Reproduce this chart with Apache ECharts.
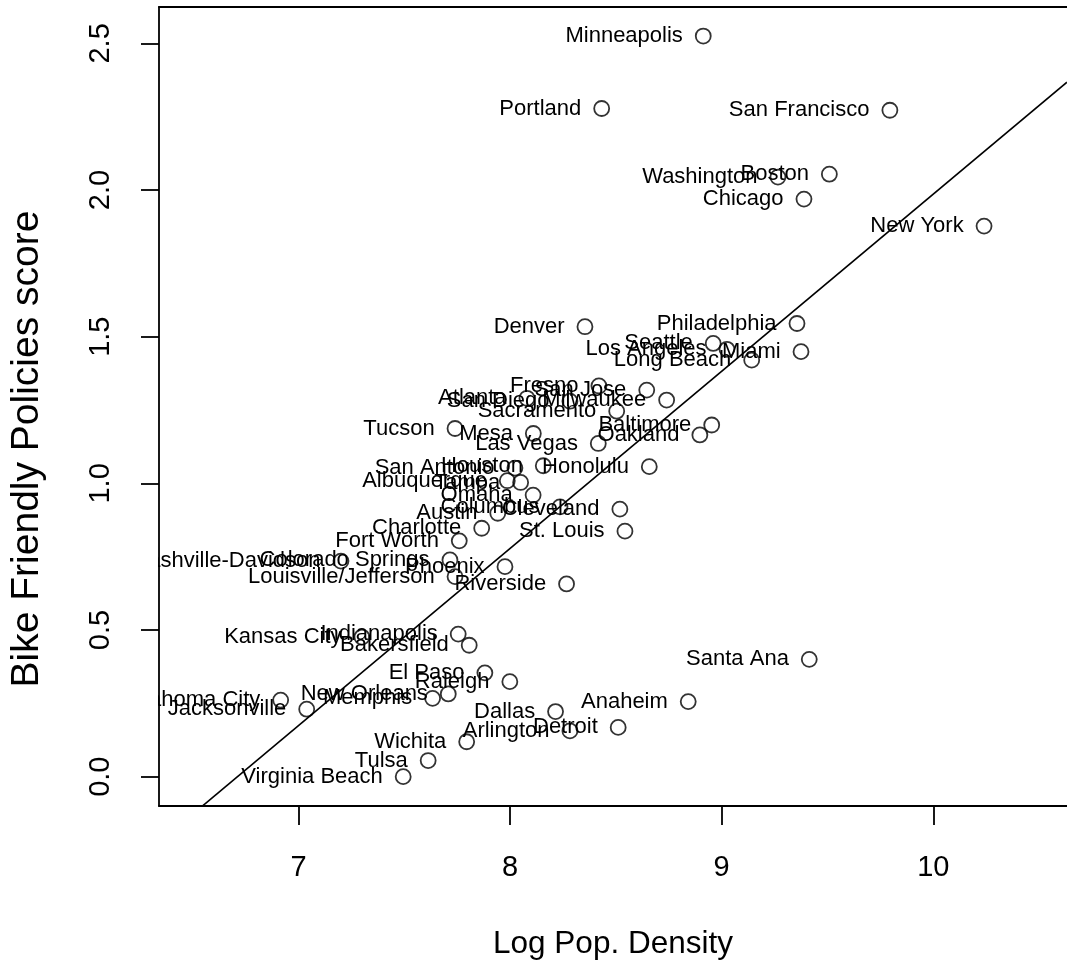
<!DOCTYPE html>
<html>
<head>
<meta charset="utf-8">
<title>Bike Friendly Policies vs Log Population Density</title>
<script src="https://cdn.jsdelivr.net/npm/echarts@6/dist/echarts.min.js"></script>
<style>
  html, body { margin: 0; padding: 0; background: #fff; }
  #chart { width: 1067px; height: 962px; }
</style>
</head>
<body>
<div id="chart"></div>
<script>
// City names, log population density and bike-friendly policy score
const cities = [
  'Minneapolis', 'Portland', 'San Francisco', 'Washington', 'Boston', 'Chicago',
  'New York', 'Denver', 'Philadelphia', 'Seattle', 'Los Angeles', 'Miami',
  'Long Beach', 'Fresno', 'San Jose', 'Atlanta', 'San Diego', 'Milwaukee',
  'Sacramento', 'Tucson', 'Mesa', 'Baltimore', 'Oakland', 'Las Vegas',
  'Houston', 'San Antonio', 'Honolulu', 'Albuquerque', 'Tampa', 'Omaha',
  'Columbus', 'Cleveland', 'Austin', 'Charlotte', 'St. Louis', 'Fort Worth',
  'Nashville-Davidson', 'Colorado Springs', 'Phoenix', 'Louisville/Jefferson',
  'Riverside', 'Kansas City', 'Indianapolis', 'Bakersfield', 'Santa Ana',
  'El Paso', 'Raleigh', 'Oklahoma City', 'New Orleans', 'Memphis',
  'Jacksonville', 'Anaheim', 'Dallas', 'Arlington', 'Detroit', 'Wichita',
  'Tulsa', 'Virginia Beach'
];
const logDensity = [
  8.913, 8.433, 9.795, 9.266, 9.509, 9.389,
  10.240, 8.354, 9.356, 8.960, 9.025, 9.375,
  9.142, 8.420, 8.646, 8.080, 8.283, 8.740,
  8.504, 7.740, 8.110, 8.953, 8.897, 8.417,
  8.157, 8.023, 8.658, 7.987, 8.050, 8.109,
  8.236, 8.519, 7.942, 7.866, 8.543, 7.760,
  7.201, 7.716, 7.976, 7.740,
  8.267, 7.300, 7.755, 7.807, 9.414,
  7.881, 7.999, 6.916, 7.708, 7.634,
  7.039, 8.842, 8.215, 8.283, 8.511, 7.795,
  7.613, 7.495
];
const bikeScore = [
  2.525, 2.278, 2.272, 2.044, 2.054, 1.969,
  1.877, 1.534, 1.545, 1.477, 1.457, 1.449,
  1.420, 1.332, 1.318, 1.290, 1.280, 1.284,
  1.246, 1.187, 1.170, 1.199, 1.165, 1.136,
  1.060, 1.052, 1.057, 1.009, 1.003, 0.960,
  0.920, 0.912, 0.898, 0.847, 0.837, 0.804,
  0.735, 0.739, 0.716, 0.682,
  0.657, 0.476, 0.486, 0.448, 0.400,
  0.354, 0.324, 0.261, 0.282, 0.267,
  0.230, 0.256, 0.222, 0.156, 0.168, 0.119,
  0.055, 0.000
];

// Least-squares fit line: score = intercept + slope * logDensity
const fitIntercept = -4.054;
const fitSlope = 0.604;

// Axis ranges and tick marks
const xRange = [6.341, 10.632];
const yRange = [-0.1, 2.624];
const xTicks = [7, 8, 9, 10];
const yTicks = [0, 0.5, 1, 1.5, 2, 2.5];

const FONT = "'Liberation Sans', Arial, Helvetica, sans-serif";
const INK = '#000';

const points = cities.map((c, i) => ({ name: c, value: [logDensity[i], bikeScore[i]] }));
const fitLine = xRange.map(x => [x, fitIntercept + fitSlope * x]);

const chart = echarts.init(document.getElementById('chart'), null, { renderer: 'canvas' });

const frameLine = { show: true, onZero: false, lineStyle: { color: INK, width: 1.8 } };

chart.setOption({
  backgroundColor: '#ffffff',
  animation: false,
  grid: { left: 159, top: 7, right: 0, bottom: 156, show: false, outerBoundsMode: 'none', containLabel: false },
  xAxis: [
    {
      type: 'value', min: xRange[0], max: xRange[1], z: 100, position: 'bottom',
      splitLine: { show: false },
      axisLine: frameLine,
      axisTick: { show: true, length: 19, customValues: xTicks, lineStyle: { color: INK, width: 1.8 } },
      axisLabel: {
        customValues: xTicks, margin: 47, color: INK, fontSize: 29, fontFamily: FONT,
        formatter: v => String(v)
      },
      name: 'Log Pop. Density', nameLocation: 'middle', nameGap: 122,
      nameTextStyle: { color: INK, fontSize: 31.5, fontFamily: FONT }
    },
    {
      // top edge of the plot frame
      type: 'value', min: xRange[0], max: xRange[1], z: 100, position: 'top',
      splitLine: { show: false }, axisLine: frameLine,
      axisTick: { show: false }, axisLabel: { show: false }
    }
  ],
  yAxis: {
    type: 'value', min: yRange[0], max: yRange[1], z: 100,
    splitLine: { show: false },
    axisLine: frameLine,
    axisTick: { show: true, length: 18, customValues: yTicks, lineStyle: { color: INK, width: 1.8 } },
    axisLabel: {
      customValues: yTicks, rotate: 90, margin: 44, color: INK, fontSize: 29, fontFamily: FONT,
      formatter: v => v.toFixed(1)
    }
  },
  graphic: {
    elements: [
      // Text outside the plotting region is clipped at the left frame
      { type: 'rect', z: 50, shape: { x: 0, y: 0, width: 158, height: 962 }, style: { fill: '#fff' } },
      {
        type: 'text', z: 100, x: 27, y: 449, rotation: Math.PI / 2,
        style: {
          text: 'Bike Friendly Policies score', fill: INK, fontSize: 39, fontFamily: FONT,
          align: 'center', verticalAlign: 'middle'
        }
      }
    ]
  },
  series: [
    {
      type: 'scatter', z: 2, data: points, clip: false,
      symbol: 'circle', symbolSize: 15,
      itemStyle: { color: 'transparent', borderColor: INK, borderWidth: 1.8 },
      label: {
        show: true, position: 'left', distance: 12, formatter: p => p.name,
        color: INK, opacity: 1, fontSize: 22, fontFamily: FONT,
        textBorderWidth: 0, textShadowBlur: 0
      },
      emphasis: { disabled: true }
    },
    {
      type: 'line', z: 3, data: fitLine, clip: true, symbol: 'none',
      lineStyle: { color: INK, width: 1.6 }, silent: true
    }
  ]
});
</script>
</body>
</html>
